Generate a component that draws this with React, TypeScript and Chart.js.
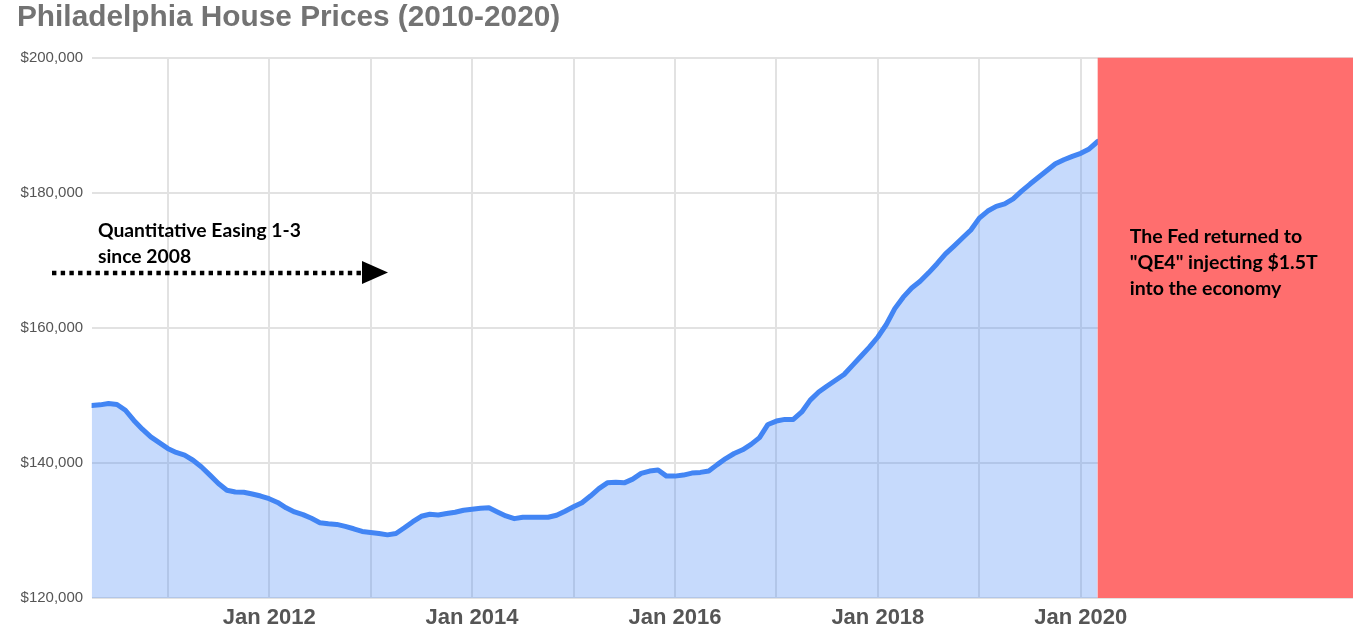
import React, { useEffect, useRef } from "react";
import { Chart, registerables } from "chart.js";

Chart.register(...registerables);

const chartTitle = "Philadelphia House Prices (2010-2020)";
// first data point: April 2010 (monthly series through March 2020)
const firstYear = 2010;
const firstMonthIndex = 3;
const prices = [
  148500, 148600, 148800, 148650, 147800, 146300, 145000, 143850, 143000,
  142150, 141550, 141150, 140400, 139400, 138200, 136950, 135950, 135700,
  135650, 135400, 135100, 134700, 134150, 133350, 132750, 132350, 131800,
  131150, 131000, 130900, 130600, 130250, 129850, 129700, 129550, 129350,
  129550, 130400, 131300, 132100, 132400, 132300, 132500, 132700, 133000,
  133150, 133300, 133350, 132750, 132150, 131750, 131950, 131950, 131950,
  131950, 132250, 132850, 133500, 134100, 135100, 136200, 137050, 137150,
  137050, 137600, 138450, 138800, 138950, 138050, 138050, 138200, 138500,
  138600, 138800, 139750, 140650, 141400, 141950, 142750, 143750, 145700,
  146200, 146450, 146450, 147550, 149300, 150500, 151400, 152250, 153100,
  154450, 155800, 157150, 158650, 160500, 162850, 164550, 165900, 166900,
  168150, 169500, 170950, 172100, 173300, 174500, 176250, 177300, 178000,
  178350, 179100, 180250, 181300, 182300, 183300, 184300, 184900, 185400,
  185850, 186500, 187600,
];
const gridYears = [2011, 2012, 2013, 2014, 2015, 2016, 2017, 2018, 2019, 2020, 2021, 2022];
const labeledYears = [2012, 2014, 2016, 2018, 2020];
const yTicks = [120000, 140000, 160000, 180000, 200000];
const xAxisEndMonths = 149.2;
const qeNote = ["Quantitative Easing 1-3", "since 2008"];
const fedNote = ["The Fed returned to", "\"QE4\" injecting $1.5T", "into the economy"];

const monthOffset = (year: number) => (year - firstYear) * 12 - firstMonthIndex;

const annotations = {
  id: "annotations",
  afterDatasetsDraw(chart: any) {
    const { ctx, chartArea, scales } = chart;
    const xs = scales.x;
    ctx.save();
    // red QE4 block
    const x0 = xs.getPixelForValue(prices.length - 1);
    ctx.fillStyle = "#ff6e6e";
    ctx.fillRect(x0, chartArea.top, chartArea.right - x0, chartArea.bottom - chartArea.top);
    ctx.fillStyle = "#000";
    ctx.font = "bold 19.5px Lato, 'Noto Sans', sans-serif";
    ctx.textBaseline = "alphabetic";
    ctx.textAlign = "left";
    fedNote.forEach((t, i) => ctx.fillText(t, x0 + 32, 243 + i * 26));

    // QE 1-3 note
    ctx.font = "bold 19.3px Lato, 'Noto Sans', sans-serif";
    qeNote.forEach((t, i) => ctx.fillText(t, 98, 237 + i * 25.5));

    // dotted arrow
    ctx.strokeStyle = "#000";
    ctx.lineWidth = 4.5;
    ctx.setLineDash([4.4, 4.3]);
    ctx.beginPath();
    ctx.moveTo(52, 273);
    ctx.lineTo(363, 273);
    ctx.stroke();
    ctx.setLineDash([]);
    ctx.beginPath();
    ctx.moveTo(362, 261);
    ctx.lineTo(388, 272.5);
    ctx.lineTo(362, 284);
    ctx.closePath();
    ctx.fill();
    ctx.restore();
  },
};

export default function App() {
  const ref = useRef<HTMLCanvasElement>(null);
  useEffect(() => {
    document.body.style.margin = "0";
    const canvas = ref.current!;
    const chart = new Chart(canvas, {
      type: "line",
      data: {
        datasets: [
          {
            data: prices.map((v, i) => ({ x: i, y: v })),
            borderColor: "#4285f4",
            backgroundColor: "rgba(66,133,244,0.3)",
            borderWidth: 5,
            fill: "start",
            pointRadius: 0,
            tension: 0,
            borderJoinStyle: "round",
            borderCapStyle: "round",
          },
        ],
      },
      options: {
        animation: false,
        responsive: true,
        maintainAspectRatio: false,
        layout: { padding: { left: 17, right: 15, top: 0, bottom: 0 } },
        plugins: {
          legend: { display: false },
          tooltip: { enabled: false },
          title: {
            display: true,
            text: chartTitle,
            align: "start",
            color: "#737373",
            font: { family: "'Liberation Sans', Arial, sans-serif", size: 29.8, weight: "bold" },
            padding: { top: 0, bottom: 22 },
          },
        },
        scales: {
          x: {
            type: "linear",
            min: 0,
            max: xAxisEndMonths,
            afterBuildTicks: (s: any) => {
              s.ticks = gridYears.map((y) => ({ value: monthOffset(y) }));
            },
            afterFit: (s: any) => {
              s.height = 28;
            },
            ticks: {
              autoSkip: false,
              maxRotation: 0,
              padding: 7,
              color: "#555",
              font: { family: "'Liberation Sans', Arial, sans-serif", size: 22, weight: "bold" },
              callback: (v: any) => {
                const y = gridYears.find((yr) => monthOffset(yr) === v);
                return y !== undefined && labeledYears.includes(y) ? "Jan " + y : "";
              },
            },
            grid: { color: "#e2e2e2", lineWidth: 2, drawTicks: false },
            border: { display: false },
          },
          y: {
            min: yTicks[0],
            max: yTicks[yTicks.length - 1],
            afterBuildTicks: (s: any) => {
              s.ticks = yTicks.map((v) => ({ value: v }));
            },
            afterFit: (s: any) => {
              s.width = 74.6;
            },
            ticks: {
              padding: 8.5,
              color: "#555",
              font: { family: "'Liberation Sans', Arial, sans-serif", size: 15 },
              callback: (v: any) => "$" + Number(v).toLocaleString("en-US"),
            },
            grid: { color: "#e2e2e2", lineWidth: 2, drawTicks: false },
            border: { display: false },
          },
        },
      },
      plugins: [annotations],
    } as any);
    return () => chart.destroy();
  }, []);
  return (
    <div style={{ width: 1368, height: 626, position: "relative" }}>
      <canvas ref={ref} />
    </div>
  );
}
